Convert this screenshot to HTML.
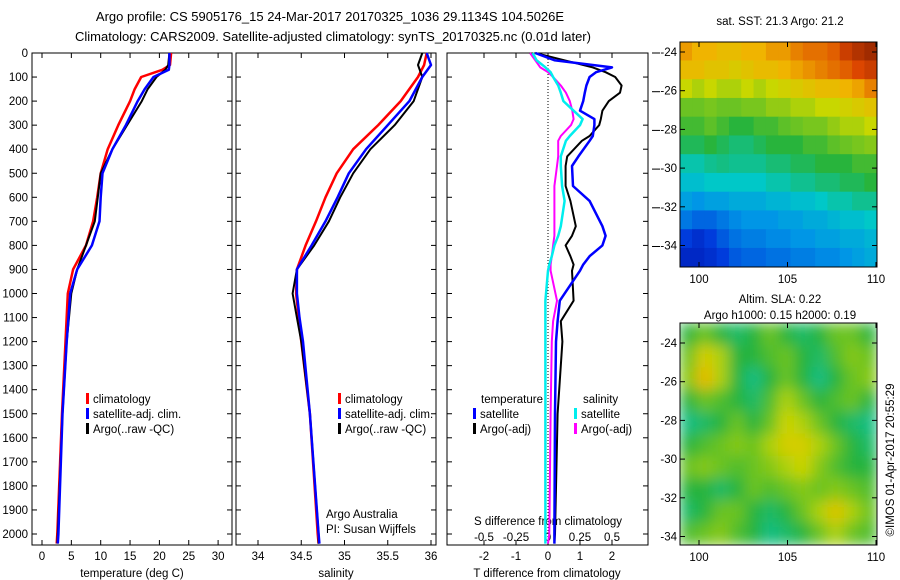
<!DOCTYPE html>
<html><head><meta charset="utf-8"><style>
body{margin:0;background:#fff}
svg{display:block;font-family:"Liberation Sans",sans-serif;font-size:11.5px}
</style></head><body>
<svg id="c" width="900" height="580" xmlns="http://www.w3.org/2000/svg">
<defs><filter id="bl" x="0" y="0" width="100%" height="100%"><feGaussianBlur stdDeviation="7"/></filter>
<clipPath id="cm1"><rect x="680" y="42" width="197" height="225"/></clipPath>
<clipPath id="cm2"><rect x="680" y="323" width="197" height="222"/></clipPath></defs>
<text x="330" y="21" text-anchor="middle" font-size="13">Argo profile: CS 5905176_15 24-Mar-2017 20170325_1036 29.1134S 104.5026E</text>
<text x="333" y="41" text-anchor="middle" font-size="13">Climatology: CARS2009. Satellite-adjusted climatology: synTS_20170325.nc (0.01d later)</text>
<g id="g"></g>
</svg>
<script>
const depthTicks=[0,100,200,300,400,500,600,700,800,900,1000,1100,1200,1300,1400,1500,1600,1700,1800,1900,2000];
const tempTicks=[0,5,10,15,20,25,30];
const salTicks=[34,34.5,35,35.5,36];
const tdTicks=[-2,-1,0,1,2];
const sdTicks=[-0.5,-0.25,0,0.25,0.5];
const dT=[0,50,70,100,150,200,300,400,500,600,700,800,900,1000,1200,1500,2000,2040];
const tempClim=[22,21.8,20.5,16.9,15.8,15,13,11.2,10,9.4,8.7,7.5,5.3,4.4,4,3.4,2.6,2.5];
const tempSat=[21.7,21.7,21.6,19,17.5,16.3,14.3,12,10.3,10,9.8,8.5,6,4.8,4.2,3.5,2.8,2.7];
const tempArgo=[21.7,21.5,21.0,19.5,18,17,14.5,12,10,9.5,9,7.5,6,5,4.2,3.5,2.7,2.6];
const dS=[0,50,100,200,300,400,500,600,700,800,900,1000,1100,1200,1500,2000,2040];
const salClim=[35.95,35.92,35.85,35.65,35.39,35.1,34.91,34.78,34.67,34.55,34.45,34.44,34.47,34.5,34.6,34.69,34.7];
const salSat=[35.95,36.0,35.9,35.75,35.5,35.25,35.05,34.92,34.78,34.62,34.45,34.45,34.48,34.52,34.6,34.7,34.71];
const salArgo=[35.9,35.85,35.9,35.8,35.58,35.3,35.1,34.95,34.82,34.65,34.45,34.4,34.45,34.5,34.6,34.7,34.7];
const dD=[0,30,60,80,100,135,165,200,240,275,300,345,365,430,470,553,615,720,760,800,845,880,905,1030,1115,1200,1500,2000,2040];
const tdSat=[-0.4,0.2,2.0,1.5,1.3,1.2,1.15,1.1,1.0,1.45,1.45,1.4,1.3,0.95,0.75,0.78,1.3,1.7,1.8,1.7,1.3,1.1,1.0,0.37,0.3,0.25,0.22,0.2,0.2];
const tdArgo=[-0.4,0.5,1.4,1.8,2.1,2.3,2.25,1.9,1.7,1.65,1.6,1.3,1.06,0.6,0.55,0.55,0.7,0.87,0.75,0.55,0.7,0.8,0.75,0.8,0.4,0.45,0.3,0.22,0.2];
const sdSat=[-0.12,-0.09,-0.02,0.02,0.04,0.08,0.1,0.12,0.2,0.27,0.25,0.17,0.14,0.1,0.1,0.11,0.13,0.1,0.08,0.05,0.03,0.01,0,-0.02,-0.02,-0.02,-0.02,-0.02,-0.02];
const sdArgo=[-0.14,-0.1,-0.06,0,0.04,0.1,0.14,0.17,0.19,0.2,0.18,0.1,0.08,0.08,0.07,0.05,0.05,0.05,0.05,0.04,0.03,0.02,0.02,0.07,0.04,0.03,0.02,0.01,0.0];
const sstGrid=[
[0.75,0.72,0.72,0.7,0.7,0.72,0.72,0.75,0.75,0.78,0.8,0.8,0.82,0.88,0.92,0.95],
[0.7,0.7,0.68,0.68,0.66,0.68,0.7,0.7,0.72,0.74,0.76,0.78,0.8,0.82,0.85,0.88],
[0.62,0.6,0.62,0.6,0.6,0.62,0.6,0.62,0.64,0.66,0.68,0.7,0.7,0.72,0.74,0.78],
[0.55,0.55,0.56,0.55,0.55,0.56,0.56,0.58,0.58,0.6,0.6,0.62,0.62,0.64,0.66,0.68],
[0.52,0.52,0.54,0.52,0.5,0.5,0.52,0.52,0.54,0.55,0.56,0.56,0.58,0.6,0.6,0.62],
[0.48,0.48,0.5,0.48,0.46,0.46,0.48,0.5,0.5,0.5,0.52,0.52,0.54,0.55,0.56,0.57],
[0.42,0.42,0.44,0.45,0.44,0.44,0.44,0.46,0.46,0.48,0.48,0.5,0.5,0.5,0.52,0.52],
[0.38,0.38,0.4,0.4,0.4,0.4,0.4,0.42,0.42,0.44,0.44,0.46,0.46,0.48,0.48,0.5],
[0.32,0.3,0.32,0.32,0.34,0.34,0.34,0.36,0.36,0.38,0.38,0.4,0.42,0.42,0.44,0.44],
[0.25,0.22,0.22,0.25,0.28,0.3,0.3,0.3,0.32,0.32,0.34,0.34,0.36,0.38,0.38,0.4],
[0.15,0.12,0.15,0.2,0.24,0.26,0.26,0.28,0.28,0.3,0.3,0.32,0.32,0.34,0.34,0.36],
[0.1,0.1,0.12,0.15,0.2,0.22,0.22,0.24,0.24,0.26,0.26,0.28,0.28,0.3,0.32,0.34]];
const slaGrid=[
[0.5,0.55,0.5,0.47,0.5,0.55,0.5,0.47,0.5,0.55,0.55,0.5],
[0.55,0.65,0.6,0.5,0.5,0.53,0.55,0.5,0.47,0.53,0.57,0.55],
[0.57,0.7,0.6,0.5,0.45,0.5,0.55,0.5,0.45,0.5,0.55,0.57],
[0.5,0.55,0.53,0.5,0.47,0.53,0.6,0.55,0.5,0.53,0.55,0.5],
[0.45,0.47,0.5,0.55,0.5,0.55,0.63,0.6,0.55,0.5,0.47,0.45],
[0.5,0.53,0.55,0.57,0.55,0.6,0.65,0.65,0.6,0.55,0.5,0.47],
[0.55,0.57,0.55,0.53,0.55,0.57,0.6,0.63,0.57,0.53,0.5,0.5],
[0.5,0.5,0.47,0.5,0.55,0.53,0.55,0.57,0.55,0.57,0.55,0.53],
[0.47,0.5,0.55,0.55,0.5,0.47,0.5,0.55,0.6,0.67,0.6,0.55],
[0.53,0.55,0.57,0.53,0.5,0.45,0.47,0.5,0.55,0.6,0.55,0.53]];
const latTicks=[-24,-26,-28,-30,-32,-34];
const lonTicks=[100,105,110];

const NS="http://www.w3.org/2000/svg",G=document.getElementById('g');
function mk(t,a,txt){const e=document.createElementNS(NS,t);for(const k in a)e.setAttribute(k,a[k]);if(txt!==undefined)e.textContent=txt;G.appendChild(e);return e;}
const Y=d=>53+d*0.2405;
const xT=v=>42+v*5.87, xS=v=>258+(v-34)*86.5, xTD=v=>548+v*32, xSD=v=>548+v*128;
const panels=[[32,232],[236,436],[447,648]];
panels.forEach((p,i)=>{
 const r=mk('rect',{x:p[0],y:53,width:p[1]-p[0],height:492,fill:'none',stroke:'#000'});
 
 depthTicks.forEach(d=>{mk('line',{x1:p[0],x2:p[0]+5,y1:Y(d),y2:Y(d),stroke:'#000'});mk('line',{x1:p[1],x2:p[1]-5,y1:Y(d),y2:Y(d),stroke:'#000'});});
});
depthTicks.forEach(d=>{const t=mk('text',{x:28,y:Y(d)+4,'text-anchor':'end'},d);});
function xticks(arr,f,y0,lab){arr.forEach(v=>{const x=f(v);mk('line',{x1:x,x2:x,y1:545,y2:540,stroke:'#000'});mk('line',{x1:x,x2:x,y1:53,y2:58,stroke:'#000'});if(lab){const t=mk('text',{x:x,y:y0,'text-anchor':'middle'},v);}});}
xticks(tempTicks,xT,560,true);xticks(salTicks,xS,560,true);xticks(tdTicks,xTD,560,true);
sdTicks.forEach(v=>{const t=mk('text',{x:xSD(v),y:541,'text-anchor':'middle'},v);});
[['temperature (deg C)',132],['salinity',336],['T difference from climatology',547]].forEach(a=>{const t=mk('text',{x:a[1],y:577,'text-anchor':'middle'},a[0]);});
let st=mk('text',{x:548,y:525,'text-anchor':'middle'},'S difference from climatology');
let zl=mk('line',{x1:548,x2:548,y1:53,y2:545,stroke:'#000','stroke-dasharray':'1,2'});
function line(ds,vs,f,col,w,name){const pts=ds.map((d,i)=>f(vs[i]).toFixed(1)+','+Y(d).toFixed(1)).join(' ');const e=mk('polyline',{points:pts,fill:'none',stroke:col,'stroke-width':w,'stroke-linejoin':'round'});}
line(dT,tempClim,xT,'#f00',2.5,'temp-climatology-line');line(dT,tempArgo,xT,'#000',2,'temp-argo-line');line(dT,tempSat,xT,'#00f',2.5,'temp-satellite-line');
line(dS,salClim,xS,'#f00',2.5,'sal-climatology-line');line(dS,salArgo,xS,'#000',2,'sal-argo-line');line(dS,salSat,xS,'#00f',2.5,'sal-satellite-line');
line(dD,tdArgo,xTD,'#000',2,'tdiff-argo-line');line(dD,tdSat,xTD,'#00f',2.5,'tdiff-satellite-line');
line(dD,sdArgo,xSD,'#f0f',2,'sdiff-argo-line');line(dD,sdSat,xSD,'#0ee',2.5,'sdiff-satellite-line');
function leg(x,y,col,txt){const r=mk('rect',{x:x,y:y-10,width:3,height:11,fill:col});const t=mk('text',{x:x+7,y:y},txt);}
[86,338].forEach(x=>{leg(x,403,'#f00','climatology');leg(x,418,'#00f','satellite-adj. clim.');leg(x,433,'#000','Argo(..raw -QC)');});
let t1=mk('text',{x:481,y:403},'temperature');
let t2=mk('text',{x:583,y:403},'salinity');
leg(473,418,'#00f','satellite');leg(473,433,'#000','Argo(-adj)');leg(574,418,'#0ee','satellite');leg(574,433,'#f0f','Argo(-adj)');
let a1=mk('text',{x:326,y:518},'Argo Australia');
let a2=mk('text',{x:326,y:533},'PI: Susan Wijffels');
latTicks.forEach((v,i)=>mk('line',{x1:652,x2:660,y1:53+i*38.7,y2:53+i*38.7,stroke:'#000'}));
const stops=[[0,[0,0,150]],[0.15,[0,60,220]],[0.3,[0,150,230]],[0.4,[0,200,200]],[0.5,[40,180,60]],[0.62,[200,215,0]],[0.72,[240,180,0]],[0.85,[220,70,0]],[1,[130,30,0]]];
function cm(v){for(let i=1;i<stops.length;i++){if(v<=stops[i][0]){const a=stops[i-1],b=stops[i],t=(v-a[0])/(b[0]-a[0]);return 'rgb('+a[1].map((c,k)=>Math.round(c+(b[1][k]-c)*t)).join(',')+')';}}return 'rgb(130,30,0)';}
function map(grid,x0,y0,w,h,clip,blur,name,latY0){
 const g=document.createElementNS(NS,'g');g.setAttribute('clip-path','url(#'+clip+')');G.appendChild(g);
 
 const inner=document.createElementNS(NS,'g');if(blur)inner.setAttribute('filter','url(#bl)');g.appendChild(inner);
 const R=grid.length,C=grid[0].length,cw=w/C,ch=h/R;
 grid.forEach((row,r)=>row.forEach((v,c)=>{const e=document.createElementNS(NS,'rect');e.setAttribute('x',x0+c*cw-0.3);e.setAttribute('y',y0+r*ch-0.3);e.setAttribute('width',cw+0.6);e.setAttribute('height',ch+0.6);e.setAttribute('fill',cm(v));
 
 
 inner.appendChild(e);}));
 const f=mk('rect',{x:x0,y:y0,width:w,height:h,fill:'none',stroke:'#000'});
 latTicks.forEach((v,i)=>{const y=latY0+i*38.7;mk('line',{x1:x0,x2:x0+5,y1:y,y2:y,stroke:'#000'});mk('line',{x1:x0+w,x2:x0+w-5,y1:y,y2:y,stroke:'#000'});const t=mk('text',{x:x0-3,y:y+4,'text-anchor':'end'},v);});
 lonTicks.forEach(v=>{const x=699+(v-100)*17.7;mk('line',{x1:x,x2:x,y1:y0+h,y2:y0+h-5,stroke:'#000'});mk('line',{x1:x,x2:x,y1:y0,y2:y0+5,stroke:'#000'});const t=mk('text',{x:x,y:y0+h+16,'text-anchor':'middle'},v);});
}
map(sstGrid,680,42,197,225,'cm1',false,'sst-map',52);
map(slaGrid,680,323,197,222,'cm2',true,'sla-map',343);
let m1=mk('text',{x:780,y:25,'text-anchor':'middle'},'sat. SST: 21.3 Argo: 21.2');
let m2=mk('text',{x:780,y:303,'text-anchor':'middle'},'Altim. SLA: 0.22');
let m3=mk('text',{x:780,y:319,'text-anchor':'middle'},'Argo h1000: 0.15 h2000: 0.19');
let cp=mk('text',{x:0,y:0,'text-anchor':'middle',transform:'translate(894,460) rotate(-90)'},'©IMOS 01-Apr-2017 20:55:29');
</script>
</body></html>
